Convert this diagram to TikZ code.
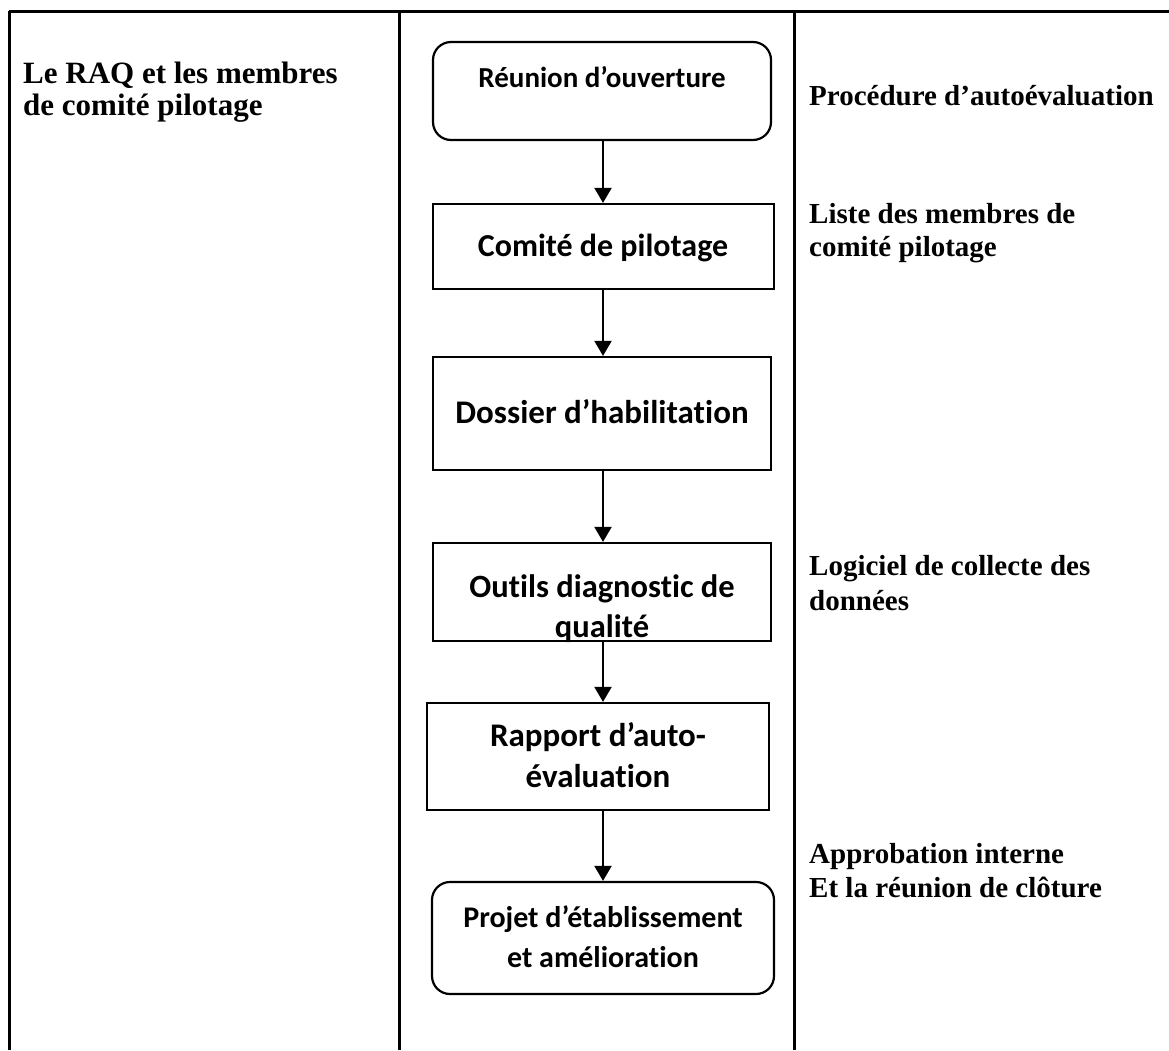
\documentclass[tikz,border=0pt]{standalone}
\usepackage{fontspec}
\setmainfont{Liberation Serif}
\newfontfamily\boxfont[Ligatures={NoCommon}]{Carlito}
\usetikzlibrary{arrows.meta}

\begin{document}
\begin{tikzpicture}[x=1pt,y=-1pt,
  rule/.style={line width=3pt},
  stepbox/.style={draw, line width=2.2pt, inner sep=0pt},
  roundbox/.style={stepbox, rounded corners=18pt},
  boxtext/.style={font=\boxfont\bfseries\fontsize{#1}{40}\selectfont, anchor=base, inner sep=0pt},
  sidetext/.style={font=\bfseries\fontsize{29}{33}\selectfont, anchor=base west, inner sep=0pt},
  lefttext/.style={font=\bfseries\fontsize{31}{32}\selectfont, anchor=base west, inner sep=0pt},
  flow/.style={line width=2pt, -{Triangle[length=15pt,width=17pt]}}
]
\useasboundingbox (0,0) rectangle (1169,1050);

% table rules
\draw[rule] (9,11) -- (1169,11);
\draw[rule] (9,11) -- (9,1050);
\draw[rule] (399,11) -- (399,1050);
\draw[rule] (794,11) -- (794,1050);

% left column
\node[lefttext] (actor1) at (23,83) {Le RAQ et les membres};
\node[lefttext] (actor2) at (23,115) {de comité pilotage};

% flow boxes
\node[roundbox, minimum width=338pt, minimum height=98pt] (b1) at (602,91) {};
\node[stepbox, minimum width=341pt, minimum height=85pt] (b2) at (603.5,246.5) {};
\node[stepbox, minimum width=338pt, minimum height=113pt] (b3) at (602,413.5) {};
\node[stepbox, minimum width=338pt, minimum height=98pt] (b4) at (602,592) {};
\node[stepbox, minimum width=342pt, minimum height=107pt] (b5) at (598,756.5) {};
\node[roundbox, minimum width=342pt, minimum height=112pt] (b6) at (603,938) {};

% box labels
\node[boxtext=29] (t1) at (602,87) {Réunion d’ouverture};
\node[boxtext=32] (t2) at (603,256) {Comité de pilotage};
\node[boxtext=33] (t3) at (602,423) {Dossier d’habilitation};
\node[boxtext=32.5] (t4a) at (602,597) {Outils diagnostic de};
\begin{scope}
  \clip (b4.north west) rectangle (b4.south east);
  \node[boxtext=32.5] (t4b) at (602,637) {qualité};
\end{scope}
\node[boxtext=33] (t5a) at (598,746) {Rapport d’auto-};
\node[boxtext=33] (t5b) at (598,787) {évaluation};
\node[boxtext=30] (t6a) at (603,927) {Projet d’établissement};
\node[boxtext=30] (t6b) at (603,967) {et amélioration};

% connectors
\coordinate (ax) at (603,0);
\draw[flow] (b1.south -| ax) -- (b2.north -| ax);
\draw[flow] (b2.south -| ax) -- (b3.north -| ax);
\draw[flow] (b3.south -| ax) -- (b4.north -| ax);
\draw[flow] (b4.south -| ax) -- (b5.north -| ax);
\draw[flow] (b5.south -| ax) -- (b6.north -| ax);

% right column
\node[sidetext] (r1) at (809,105) {Procédure d’autoévaluation};
\node[sidetext] (r2a) at (809,223) {Liste des membres de};
\node[sidetext] (r2b) at (809,256) {comité pilotage};
\node[sidetext] (r3a) at (809,575) {Logiciel de collecte des};
\node[sidetext] (r3b) at (809,610) {données};
\node[sidetext] (r4a) at (809,863) {Approbation interne};
\node[sidetext] (r4b) at (809,897) {Et la réunion de clôture};
\end{tikzpicture}
\end{document}
